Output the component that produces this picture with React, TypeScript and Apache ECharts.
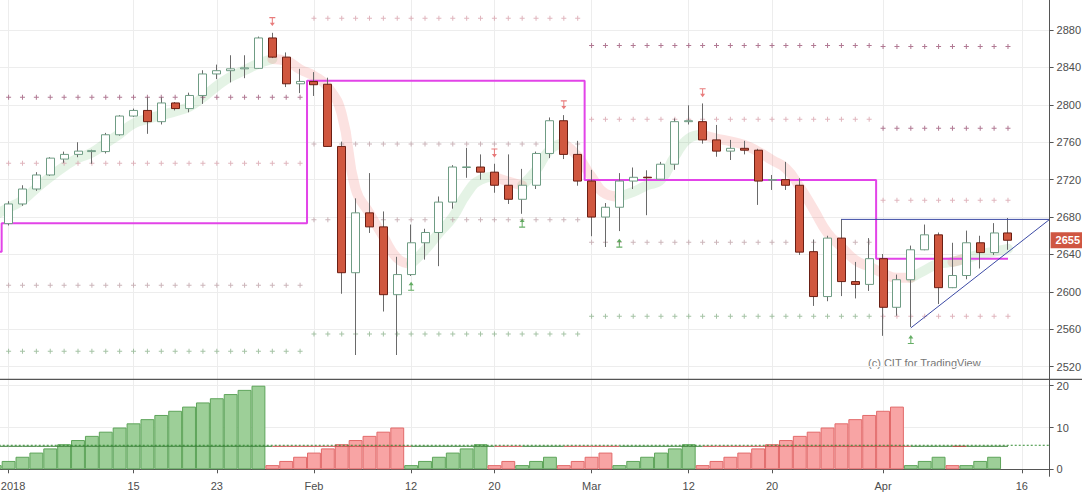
import { useEffect, useRef } from 'react'
import * as echarts from 'echarts'

const FONT = '"Liberation Sans", Arial, sans-serif'

// time scale: CFD session, so MLK day and Presidents' Day trade, Good Friday does not
const tradingDays: [string, number[]][] = [
  ['2017-12', [29]],
  ['2018-01', [2, 3, 4, 5, 8, 9, 10, 11, 12, 15, 16, 17, 18, 19, 22, 23, 24, 25, 26, 29, 30, 31]],
  ['2018-02', [1, 2, 5, 6, 7, 8, 9, 12, 13, 14, 15, 16, 19, 20, 21, 22, 23, 26, 27, 28]],
  ['2018-03', [1, 2, 5, 6, 7, 8, 9, 12, 13, 14, 15, 16, 19, 20, 21, 22, 23, 26, 27, 28, 29]],
  ['2018-04', [2, 3, 4, 5, 6, 9, 10, 11, 12, 13, 16, 17, 18]],
]
const dates = tradingDays.flatMap(([month, days]) =>
  days.map((d) => `${month}-${String(d).padStart(2, '0')}`),
)

const tickLabels: Record<string, string> = {
  '2018-01-02': '2018',
  '2018-01-15': '15',
  '2018-01-23': '23',
  '2018-02-01': 'Feb',
  '2018-02-12': '12',
  '2018-02-20': '20',
  '2018-03-01': 'Mar',
  '2018-03-12': '12',
  '2018-03-20': '20',
  '2018-04-02': 'Apr',
  '2018-04-16': '16',
}

// daily OHLC, 2017-12-29 .. 2018-04-13
const opens = [
  2689,
  2673, 2694, 2710, 2725, 2742, 2747, 2750, 2750, 2768, 2788, 2794, 2782, 2802, 2796, 2810, 2833, 2836.5, 2838.5, 2839, 2871.5, 2851, 2822.5,
  2825, 2822, 2755.5, 2620.5, 2684.5, 2669.5, 2597, 2618.5, 2652.5, 2663.5, 2696, 2733, 2733.5, 2728, 2714, 2699, 2714, 2748, 2783, 2747,
  2718.5, 2680, 2690.5, 2718.5, 2722.6, 2720.5, 2736.5, 2782, 2782, 2762.5, 2750.5, 2753.5, 2751.5, 2719.5, 2720, 2714, 2643, 2595, 2657.5, 2611, 2608,
  2635.5, 2583.5, 2613, 2645, 2661, 2604.5, 2617.5, 2652.5, 2642, 2663,
]
const closes = [
  2673.5,
  2694, 2710, 2725, 2743, 2747, 2750.5, 2751, 2768, 2788, 2794, 2782, 2802, 2796, 2810, 2833, 2836.5, 2838.5, 2839.5, 2871.5, 2851, 2822.5, 2825,
  2821.5, 2755.5, 2620.5, 2684.5, 2669.5, 2597, 2618.5, 2652.5, 2663.5, 2696, 2733.5, 2733.6, 2728, 2714, 2699, 2714, 2748, 2783, 2747, 2718.5,
  2680, 2690.5, 2718.5, 2722.5, 2722, 2736.5, 2782, 2783, 2762.5, 2750.5, 2753.5, 2751.5, 2718.5, 2720, 2714, 2642.5, 2595, 2657.5, 2611, 2608, 2635.5,
  2583.5, 2613, 2645, 2661, 2604.5, 2617.5, 2652.5, 2642, 2663, 2655.2,
]
const lows = [
  2672,
  2671, 2692, 2708, 2724, 2738, 2744, 2737, 2748, 2767, 2787, 2769, 2779, 2794, 2792, 2801, 2827.5, 2824, 2828.5, 2838.5, 2850, 2819, 2812.5,
  2809.5, 2755, 2598, 2532.5, 2663, 2579, 2532.5, 2617, 2634.5, 2627.5, 2689, 2722, 2720, 2706, 2694, 2683.5, 2710, 2743, 2742, 2713.5,
  2659.5, 2648, 2665, 2710, 2682, 2720, 2730.5, 2779, 2758.5, 2744.5, 2741, 2747, 2693, 2709, 2709, 2639.5, 2585, 2590, 2595.5, 2593, 2601,
  2553, 2574.5, 2562.5, 2644.5, 2587, 2604, 2613.5, 2625, 2639.5, 2645,
]
const highs = [
  2692,
  2697, 2714, 2728, 2744, 2750, 2760, 2752, 2770, 2789, 2796, 2808, 2808, 2803, 2813, 2837, 2843, 2853, 2853, 2873, 2877, 2856, 2838.5,
  2835, 2829, 2760.5, 2700, 2727, 2686, 2637.5, 2672, 2667.5, 2702, 2735.5, 2754, 2747, 2737, 2747, 2731.5, 2750, 2786.5, 2789, 2761.5,
  2730.5, 2695, 2727, 2733, 2730, 2739, 2785.5, 2799.5, 2801.5, 2778.5, 2762.5, 2761.5, 2753, 2725, 2739, 2721.5, 2656, 2660, 2678, 2632, 2657.5,
  2640.5, 2618.5, 2649.5, 2672, 2663.5, 2652.5, 2665.5, 2660, 2673.5, 2679,
]

// smoothed trend band, and its state (1 rising / green, -1 falling / red)
const bandValues = [
  2682,
  2690, 2698, 2711, 2723, 2734, 2743, 2749, 2759, 2769, 2780,
  2785, 2789, 2793, 2798, 2808, 2820, 2830, 2837, 2844, 2849,
  2847, 2838, 2831, 2819, 2790, 2710, 2684, 2659, 2636, 2630,
  2645, 2663, 2680, 2705, 2720, 2723, 2718, 2714, 2730, 2752,
  2759, 2745, 2723, 2705, 2702, 2707, 2714, 2720, 2745, 2764,
  2768, 2764, 2761, 2757, 2750, 2741, 2732, 2712, 2688, 2663,
  2648, 2634, 2627, 2620, 2615, 2615, 2623, 2630, 2632, 2636,
  2640, 2643, 2646,
]
const trend = [
  1,
  1, 1, 1, 1, 1, 1, 1, 1, 1, 1, 1, 1, 1, 1, 1, 1, 1, 1, 1,
  -1, -1, -1, -1, -1, -1, -1, -1, -1, -1,
  1, 1, 1, 1, 1, 1,
  -1, -1,
  1, 1, 1,
  -1, -1, -1, -1,
  1, 1, 1, 1, 1, 1,
  -1, -1, -1, -1, -1, -1, -1, -1, -1, -1, -1, -1, -1, -1, -1,
  1, 1, 1,
  -1,
  1, 1, 1,
  1,
]

// lower pane: bars since the band last changed colour
const barCount = [
  1,
  2, 3, 4, 5, 6, 7, 8, 9, 10, 11, 12, 13, 14, 15, 16, 17, 18, 19, 20,
  1, 2, 3, 4, 5, 6, 7, 8, 9, 10,
  1, 2, 3, 4, 5, 6,
  1, 2,
  1, 2, 3,
  1, 2, 3, 4,
  1, 2, 3, 4, 5, 6,
  1, 2, 3, 4, 5, 6, 7, 8, 9, 10, 11, 12, 13, 14, 15,
  1, 2, 3,
  1,
  1, 2, 3,
  null,
]
const countAverage = 5.75
const countLevel = 5.5

// monthly pivots: P is the magenta step, the other levels are the crosses
const pivotFrom = ['2017-12-29', '2018-01-02', '2018-02-01', '2018-03-01', '2018-04-02']
const pivotTo = ['2017-12-29', '2018-01-31', '2018-02-28', '2018-03-29', '2018-04-13']
const pivotP = [2643, 2673.3, 2825.8, 2719.6, 2635.5]
const pivotLevels = [
  [],
  [2808, 2737.5, 2607, 2536.5],
  [2892.5, 2758, 2677, 2555],
  [2863.5, 2784.5, 2653, 2574],
  [2862.5, 2775, 2698, 2574],
]
const pivotTones = [
  [],
  ['dark', 'light', 'gray', 'green'],
  ['light', 'gray', 'gray', 'green'],
  ['dark', 'light', 'gray', 'green'],
  ['dark', 'dark', 'light', 'light'],
]

// swing markers
const swingHighDates = ['2018-01-29', '2018-02-20', '2018-02-27', '2018-03-13']
const swingHighValues = [2889, 2748.5, 2800, 2813]
const swingLowDates = ['2018-02-12', '2018-02-22', '2018-03-05', '2018-04-04']
const swingLowValues = [2606, 2673.5, 2652, 2549]

// ascending triangle drawn on the chart
const triangleTop: [string, number][] = [['2018-03-27', 2677.5], ['2018-04-18', 2677.5]]
const triangleBase: [string, number][] = [['2018-04-04', 2561.5], ['2018-04-18', 2677.5]]

const toneColors: Record<string, string> = {
  dark: '#9e5878',
  light: '#d8a2ac',
  gray: '#bfa3a9',
  green: '#8fb48f',
}

const PLUS = 'path://M2,0H3V2H5V3H3V5H2V3H0V2H2Z'
const ARROW_DOWN = 'path://M0,0H6V1H3.5V5H5.5L3,8L0.5,5H2.5V1H0Z'
const ARROW_UP = 'path://M3,0L5.5,3H3.5V7H6V8H0V7H2.5V3H0.5Z'

function buildOption(): any {
  const n = opens.length
  const barDates = dates.slice(0, n)

  const magenta = barDates.map((d) => {
    const s = pivotFrom.findIndex((f, j) => d >= f && d <= pivotTo[j])
    return s >= 0 ? pivotP[s] : null
  })

  const crosses: Record<string, [string, number][]> = { dark: [], light: [], gray: [], green: [] }
  pivotLevels.forEach((levels, s) => {
    const segDates = barDates.filter((d) => d >= pivotFrom[s] && d <= pivotTo[s])
    levels.forEach((lv, j) => {
      segDates.forEach((d) => crosses[pivotTones[s][j]].push([d, lv]))
    })
  })

  const byTrend = (vals: (number | null)[], want: number) =>
    vals.map((v, i) => (trend[i] === want || trend[i - 1] === want ? v : null))

  const bodies = barDates.map((_, i) => [
    opens[i],
    closes[i],
    Math.min(opens[i], closes[i]),
    Math.max(opens[i], closes[i]),
  ])
  const wicks = barDates.map((_, i) => [opens[i], closes[i], lows[i], highs[i]])
  const lastClose = closes[n - 1]

  const countLine = barDates.map(() => countLevel)
  const isTick = (_i: number, v: string) => v in tickLabels

  const catAxis = (gridIndex: number) => ({
    type: 'category',
    gridIndex,
    data: dates,
    boundaryGap: false,
    splitLine: {
      show: true,
      interval: isTick,
      lineStyle: { color: '#ededed', width: 1 },
    },
  })

  const priceAxis = {
    type: 'value',
    position: 'right',
    axisLine: { show: false },
    axisTick: { show: true, length: 4, lineStyle: { color: '#555' } },
    axisLabel: {
      color: '#4d4d4d',
      fontSize: 11,
      margin: 7,
      showMaxLabel: false,
      formatter: (v: number) => String(v),
    },
    splitLine: { show: true, showMaxLine: false, lineStyle: { color: '#ededed' } },
  }

  return {
    animation: false,
    textStyle: { fontFamily: FONT },
    grid: [
      { left: -5.28, top: -7.4, width: 1054.9, height: 374.1, outerBoundsMode: 'none', containLabel: false },
      { left: -5.28, top: 366.9, width: 1054.9, height: 102.4, outerBoundsMode: 'none', containLabel: false },
    ],
    xAxis: [
      {
        ...catAxis(0),
        axisLine: { show: false },
        axisTick: { show: false },
        axisLabel: { show: false },
      },
      {
        ...catAxis(1),
        offset: 7.4,
        axisLine: { show: true, lineStyle: { color: '#555', width: 1 } },
        axisTick: {
          show: true,
          length: 4,
          interval: isTick,
          lineStyle: { color: '#555' },
        },
        axisLabel: {
          interval: isTick,
          // the year label sits at the left edge; nudge it inside the page
          formatter: (v: string) =>
            tickLabels[v] === '2018' ? `{edge|${tickLabels[v]}}` : tickLabels[v] ?? '',
          rich: {
            edge: { color: '#4d4d4d', fontSize: 11, fontFamily: FONT, padding: [0, 0, 0, 9] },
          },
          color: '#4d4d4d',
          fontSize: 11,
          margin: 4,
        },
      },
    ],
    yAxis: [
      { ...priceAxis, gridIndex: 0, min: 2520, max: 2920, interval: 40 },
      { ...priceAxis, gridIndex: 1, min: 0, max: 24.5, interval: 10 },
    ],
    series: [
      {
        name: 'band up',
        type: 'line',
        smooth: true,
        showSymbol: false,
        silent: true,
        z: 1,
        data: byTrend(bandValues, 1),
        lineStyle: { width: 10, color: 'rgba(76,175,80,0.15)', cap: 'round' },
      },
      {
        name: 'band down',
        type: 'line',
        smooth: true,
        showSymbol: false,
        silent: true,
        z: 1,
        data: byTrend(bandValues, -1),
        lineStyle: { width: 10, color: 'rgba(239,83,80,0.17)', cap: 'round' },
      },
      ...Object.keys(crosses).map((tone) => ({
        name: `pivot ${tone}`,
        type: 'scatter',
        symbol: PLUS,
        symbolSize: 5,
        silent: true,
        z: 2,
        itemStyle: { color: toneColors[tone] },
        data: crosses[tone],
      })),
      {
        name: 'pivot P',
        type: 'line',
        step: 'middle',
        showSymbol: false,
        silent: true,
        z: 3,
        data: magenta,
        lineStyle: { width: 2, color: '#e244e8' },
      },
      {
        name: 'wicks',
        type: 'candlestick',
        barWidth: 1,
        z: 4,
        silent: true,
        data: wicks,
        itemStyle: {
          color: '#6a6a6a',
          color0: '#6a6a6a',
          borderColor: '#6a6a6a',
          borderColor0: '#6a6a6a',
          borderWidth: 1,
        },
      },
      {
        name: 'bodies',
        type: 'candlestick',
        barWidth: 8.5,
        z: 5,
        silent: true,
        data: bodies,
        itemStyle: {
          color: '#ffffff',
          color0: '#d0573f',
          borderColor: '#6f9c84',
          borderColor0: '#6b1f14',
          borderWidth: 1,
        },
        markLine: {
          silent: true,
          symbol: 'none',
          animation: false,
          lineStyle: { color: 'rgba(0,0,0,0)', width: 0 },
          label: {
            position: 'end',
            distance: 1,
            formatter: () => String(Math.round(lastClose)),
            color: '#ffffff',
            backgroundColor: '#cf5642',
            padding: [3, 5, 2, 5],
            fontSize: 11,
            fontWeight: 'bold',
          },
          data: [{ yAxis: lastClose }],
        },
      },
      {
        name: 'triangle top',
        type: 'line',
        showSymbol: false,
        silent: true,
        z: 6,
        data: triangleTop,
        lineStyle: { width: 1, color: '#3c4aa5' },
      },
      {
        name: 'triangle base',
        type: 'line',
        showSymbol: false,
        silent: true,
        z: 6,
        data: triangleBase,
        lineStyle: { width: 1, color: '#3c4aa5' },
      },
      {
        name: 'swing highs',
        type: 'scatter',
        symbol: ARROW_DOWN,
        symbolSize: [6, 9],
        silent: true,
        z: 6,
        itemStyle: { color: '#e25a5a' },
        data: swingHighDates.map((d, i) => [d, swingHighValues[i]]),
      },
      {
        name: 'swing lows',
        type: 'scatter',
        symbol: ARROW_UP,
        symbolSize: [6, 9],
        silent: true,
        z: 6,
        itemStyle: { color: '#3e9a3e' },
        data: swingLowDates.map((d, i) => [d, swingLowValues[i]]),
      },
      {
        name: 'count',
        type: 'bar',
        xAxisIndex: 1,
        yAxisIndex: 1,
        barWidth: '100%',
        silent: true,
        data: barCount.map((v, i) => ({
          value: v,
          itemStyle:
            trend[i] > 0
              ? { color: '#9dcf98', borderColor: '#5ea45a', borderWidth: 1 }
              : { color: '#f8a4a4', borderColor: '#e26a6a', borderWidth: 1 },
        })),
      },
      {
        name: 'count level up',
        type: 'line',
        xAxisIndex: 1,
        yAxisIndex: 1,
        showSymbol: false,
        silent: true,
        z: 3,
        data: byTrend(countLine, 1),
        lineStyle: { width: 1, color: '#3f7f3c' },
      },
      {
        name: 'count level down',
        type: 'line',
        xAxisIndex: 1,
        yAxisIndex: 1,
        showSymbol: false,
        silent: true,
        z: 3,
        data: byTrend(countLine, -1),
        lineStyle: { width: 1, color: '#c84a4a' },
      },
      {
        name: 'count average',
        type: 'line',
        xAxisIndex: 1,
        yAxisIndex: 1,
        showSymbol: false,
        silent: true,
        z: 3,
        data: dates.map(() => countAverage),
        lineStyle: { width: 1, color: '#2f8a2f', type: [2, 2] },
      },
    ],
    graphic: [
      {
        type: 'line',
        silent: true,
        z: 100,
        shape: { x1: 1049.5, y1: 0, x2: 1049.5, y2: 476.7 },
        style: { stroke: '#555', lineWidth: 1 },
      },
      {
        type: 'line',
        silent: true,
        z: 100,
        shape: { x1: 0, y1: 379.3, x2: 1082, y2: 379.3 },
        style: { stroke: '#555', lineWidth: 1.2 },
      },
      {
        type: 'text',
        silent: true,
        left: 868,
        top: 357,
        style: {
          text: '(c) CIT for TradingView',
          fill: '#777',
          font: `11px ${FONT}`,
        },
      },
    ],
  }
}

export default function App() {
  const chartRef = useRef<HTMLDivElement>(null)

  useEffect(() => {
    document.body.style.margin = '0'
    if (!chartRef.current) return
    const chart = echarts.init(chartRef.current, undefined, { renderer: 'svg' })
    chart.setOption(buildOption())
    return () => {
      chart.dispose()
    }
  }, [])

  return <div ref={chartRef} style={{ width: 1082, height: 496, background: '#fff' }} />
}
